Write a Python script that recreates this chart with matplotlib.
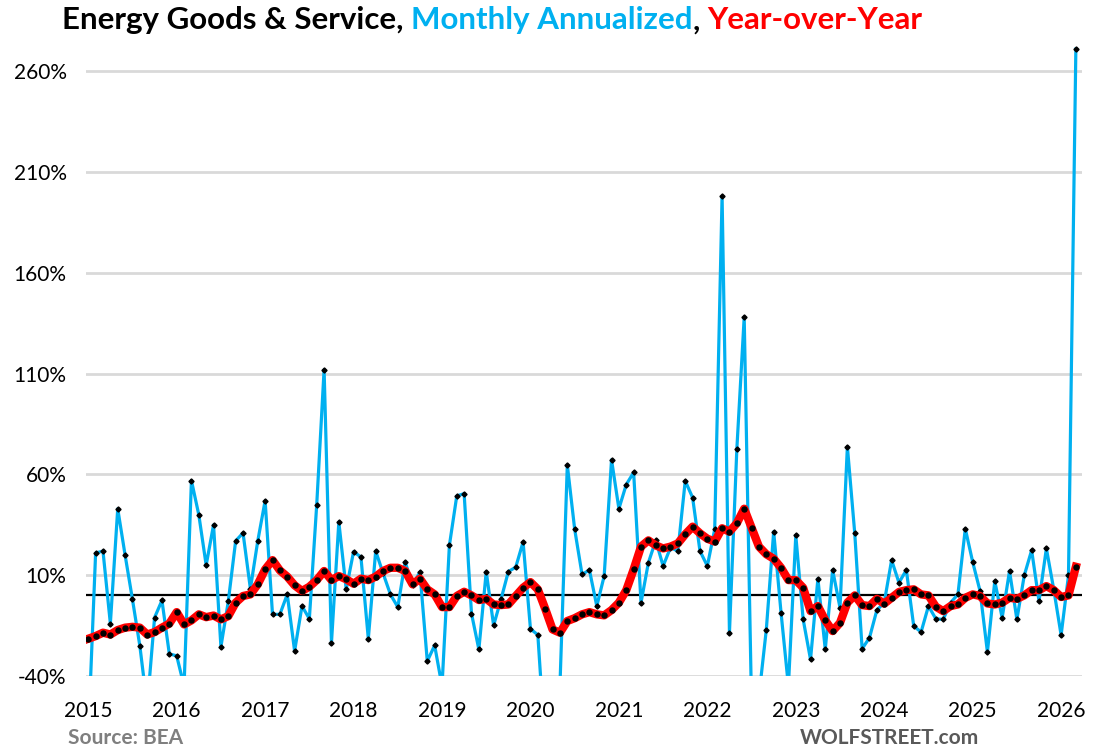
import matplotlib
matplotlib.use("Agg")
import matplotlib.pyplot as plt
import numpy as np

# monthly data, Jan 2015 .. Mar 2026
years = list(range(2015, 2027))

monthly_annualized = [
    -70, 21, 22, -14, 43, 20, -2, -25, -55, -11, -2.5, -29,      # 2015
    -30, -45, 57, 40, 15, 35, -25.5, -3, 27, 31, 3.3, 27,        # 2016
    47, -9.4, -9.4, 0.5, -27.6, -5.3, -11.6, 45, 112, -23.5, 36.4, 3,  # 2017
    21.7, 19, -21.5, 22, 11, 0.5, -5.8, 16.6, 5, 11.6, -32.6, -24.8,   # 2018
    -45, 24.8, 49.3, 50.5, -9, -26.8, 11.8, -14.9, -2, 11.8, 14, 26.5,  # 2019
    -16.6, -19.6, -75, -95, -45, 64.7, 32.8, 10.4, 12.6, -5.3, 9.6, 67.3,  # 2020
    43, 55, 61, -3.6, 16.2, 27.3, 14.6, 23.7, 22, 56.8, 48.5, 22,  # 2021
    14.6, 32.8, 198, -18.5, 72.5, 138, -55, -50, -17, 31.6, -8.6, -45,  # 2022
    29.8, -11.9, -31.8, 8.3, -26.8, 12.6, -6.1, 73.8, 30.8, -26.5, -21, -7.3,  # 2023
    -3.6, 17.5, 6.3, 12.6, -15.2, -18.2, -5.3, -11.6, -11.9, -3.6, 0.5, 33.1,  # 2024
    16.6, 2.2, -28.1, 7.1, -11.1, 12.1, -11.9, 9.9, 22.4, -2.8, 23.3, 3,  # 2025
    -19.7, 9.9, 271,  # 2026
]

year_over_year = [
    -21.5, -20.2, -18.5, -19.4, -17.2, -16, -15.6, -16, -19.4, -18.2, -16, -14,
    -8.3, -14.4, -12.4, -9.4, -10.8, -10, -11.9, -10.3, -3.6, -0.3, 0.5, 5.5,
    12.9, 17.5, 12.4, 9.3, 5, 2.2, 4.3, 7.6, 12.1, 7.6, 9.6, 8,
    5.8, 8.3, 7.6, 9.3, 12.1, 13.7, 13.7, 12.1, 5.5, 8.3, 3, 0.5,
    -5.8, -5.8, -0.3, 1.8, 0, -2.3, -1.7, -4.5, -4.8, -4.5, -0.3, 3.8,
    6.6, 3, -6.6, -16.9, -18.5, -12.7, -11.3, -9.4, -8.3, -9.4, -9.9, -7.3,
    -3.6, 2.6, 12.9, 24.2, 27.3, 24.8, 23.3, 24.2, 25.8, 30.3, 34.1, 30.8,
    28.1, 26.7, 33.3, 31.6, 35.8, 43, 33.6, 24.2, 20.4, 18.2, 13.7, 7.6,
    7.6, 3.8, -7.8, -5.3, -12.4, -17.7, -13.6, -3.6, 0, -4.8, -5.3, -1.7,
    -4.1, -1.2, 1.7, 2.6, 3, 0.5, 0, -5.6, -7.8, -5.3, -4.5, -1.2,
    0.5, -0.3, -4, -4.5, -3.6, -1.2, -1.7, 0, 2.6, 2.6, 4.6, 2.6,
    -0.8, 0, 14.2,
]

y_ticks = [-40, 10, 60, 110, 160, 210, 260]

BLUE = "#00B0F0"
RED = "#FF0000"
FONT = "Lato"

x = np.arange(len(monthly_annualized))

fig = plt.figure(figsize=(10.96, 7.55), dpi=100)
ax = fig.add_axes([0.0785, 0.1046, 0.9085, 0.849])

ax.plot(x, monthly_annualized, color=BLUE, lw=2.3, marker="D", ms=2.6,
        mfc="black", mec="black", zorder=3)
ax.plot(x, year_over_year, color=RED, lw=6, marker="o", ms=3.6,
        mfc="black", mec="black", zorder=4)
ax.axhline(0, color="black", lw=1.6, zorder=2)

ax.set_ylim(-40, 278)
ax.set_xlim(-0.3, len(x) - 0.2)
ax.set_yticks(y_ticks)
ax.set_yticklabels([f"{v}%" for v in y_ticks])
ax.set_xticks([12 * i for i in range(len(years))])
ax.set_xticklabels([str(y) for y in years])
ax.grid(axis="y", color="#D9D9D9", lw=2, zorder=0)
ax.tick_params(length=0, labelsize=15)
for lab in ax.get_xticklabels() + ax.get_yticklabels():
    lab.set_fontfamily(FONT)
ax.tick_params(axis="x", pad=18)
ax.tick_params(axis="y", pad=14)
for s in ax.spines.values():
    s.set_visible(False)

# multi-coloured title
pieces = [("Energy Goods & Service, ", "black"),
          ("Monthly Annualized", BLUE),
          (", ", "black"),
          ("Year-over-Year", RED)]
renderer = fig.canvas.get_renderer()
xpos = 62 / 1096
for txt, col in pieces:
    t = fig.text(xpos, 0.973, txt, color=col, fontsize=22.5, fontweight="bold",
                 family=FONT, va="center", ha="left")
    bb = t.get_window_extent(renderer)
    xpos = bb.x1 / fig.bbox.width

fig.text(68 / 1096, 1 - 738 / 755, "Source: BEA", color="#7F7F7F",
         fontsize=15, fontweight="bold", family=FONT, va="center")
fig.text(800 / 1096, 1 - 738 / 755, "WOLFSTREET.com", color="#595959",
         fontsize=15, fontweight="bold", family=FONT, va="center")

fig.savefig("out.png", dpi=100)
